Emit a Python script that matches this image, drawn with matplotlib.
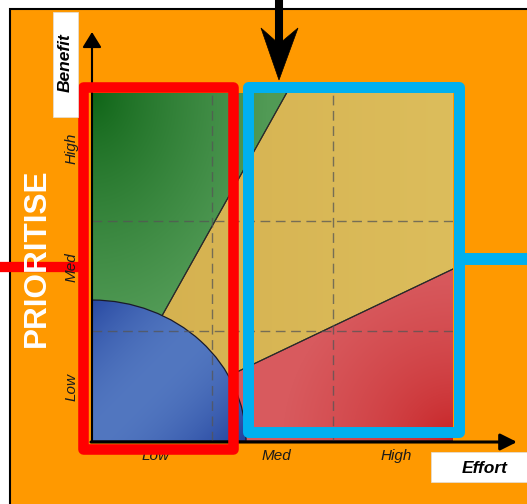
import numpy as np
import matplotlib
matplotlib.use('Agg')
import matplotlib.pyplot as plt
from matplotlib.patches import Rectangle, Wedge, Polygon, FancyArrowPatch

plt.rcParams['font.family'] = ['Liberation Sans', 'DejaVu Sans']

# chart content
x_labels = ['Low', 'Med', 'High']
y_labels = ['Low', 'Med', 'High']
x_max, y_max = 3.0, 3.16
# sector boundaries (degrees, measured from the origin) and the quarter disc radius
sector_names = ['red', 'yellow', 'green']
sector_edges = [0.0, 27.5, 62.9, 90.0]
blue_radius = 1.28
side_label = 'PRIORITISE'
x_title, y_title = 'Effort', 'Benefit'

orange = '#ff9900'
red_box = '#ff0000'
blue_box = '#00b0f0'

fig = plt.figure(figsize=(5.27, 5.04), dpi=100, facecolor='white')
W, H = 527, 504

# background layer (pixel coords)
bg = fig.add_axes([0, 0, 1, 1])
bg.set_xlim(0, W)
bg.set_ylim(H, 0)
bg.axis('off')
bg.set_zorder(0)
bg.add_patch(Rectangle((10, 9), 700, 700, fc=orange, ec='black', lw=1.5))
bg.text(36.5, 257.5, side_label, rotation=90, ha='center', va='center',
        fontsize=22.7, fontweight='bold', color='white')
bg.plot([0, 83], [266.5, 266.5], color=red_box, lw=7.4, solid_capstyle='butt')

# chart layer
ax = fig.add_axes([92 / W, (H - 441) / H, 361 / W, 348 / H])
ax.set_zorder(1)
ax.set_xlim(0, x_max)
ax.set_ylim(0, y_max)
for s in ax.spines.values():
    s.set_visible(False)

xs = np.linspace(0, x_max, 361)
ys = np.linspace(0, y_max, 348)
X, Y = np.meshgrid(xs, ys)
PX, PY = X * 120.3, Y * 110.0


def shade(dark, light, t):
    d = np.array(matplotlib.colors.to_rgb(dark))
    l = np.array(matplotlib.colors.to_rgb(light))
    t = np.clip(t, 0, 1)[..., None]
    return d * (1 - t) + l * t


grads = {
    'green': shade('#0d6315', '#519a55',
                   (np.hypot(PX * 1.2, (y_max * 110 - PY) * 0.9) / 210) ** 0.8),
    'yellow': shade('#d4af4d', '#dcbd5c', PX / 360),
    'red': shade('#c41a1c', '#d85a5e',
                 (np.hypot(361 - PX, PY) / 170) ** 0.55),
}

for name, t1, t2 in zip(sector_names, sector_edges[:-1], sector_edges[1:]):
    w = Wedge((0, 0), 6, t1, t2, fc='none', ec='#2a2a2a', lw=0.8, zorder=3)
    ax.add_patch(w)
    im = ax.imshow(grads[name], extent=[0, x_max, 0, y_max], origin='lower',
                   aspect='auto', interpolation='bilinear', zorder=2)
    im.set_clip_path(w)

tb = np.abs(PX - PY) / 165
blue_img = shade('#5277c0', '#1b3a98', tb ** 1.8)
bw = Wedge((0, 0), blue_radius, 0, 90, fc='none', ec='#1a1a2a', lw=0.9, zorder=5)
ax.add_patch(bw)
im = ax.imshow(blue_img, extent=[0, x_max, 0, y_max], origin='lower',
               aspect='auto', interpolation='bilinear', zorder=4)
im.set_clip_path(bw)

for v in [1, 2]:
    ax.axvline(v, color='#555555', lw=1.0, dashes=(7, 4), alpha=0.75, zorder=6)
    ax.axhline(v, color='#555555', lw=1.0, dashes=(7, 4), alpha=0.75, zorder=6)

ax.set_xticks(np.arange(3) + 0.53, x_labels)
ax.set_yticks(np.arange(3) * 1.085 + 0.49, y_labels, rotation=90, va='center')
ax.tick_params(length=0, labelsize=11, labelcolor='#1a1a1a')
ax.tick_params(axis='x', pad=6)
ax.tick_params(axis='y', pad=9.5)
for lab in ax.get_xticklabels() + ax.get_yticklabels():
    lab.set_fontstyle('italic')

# overlay layer (pixel coords)
ov = fig.add_axes([0, 0, 1, 1])
ov.set_xlim(0, W)
ov.set_ylim(H, 0)
ov.axis('off')
ov.patch.set_alpha(0)
ov.set_zorder(2)

# axis arrows
ov.add_patch(FancyArrowPatch((92, 442), (92, 32), arrowstyle='-|>,head_length=9.4,head_width=5.8',
                             mutation_scale=1, lw=1.5, color='black', shrinkA=0, shrinkB=0))
ov.add_patch(FancyArrowPatch((91, 442), (517, 442), arrowstyle='-|>,head_length=10,head_width=5',
                             mutation_scale=1, lw=2.2, color='black', shrinkA=0, shrinkB=0))

# highlight boxes
ov.add_patch(Rectangle((82.5, 87), 150.5, 361.5, fill=False, ec=red_box, lw=7.6, joinstyle='round'))
ov.add_patch(Rectangle((247.5, 87), 211.5, 345, fill=False, ec=blue_box, lw=7.9, joinstyle='round'))
ov.plot([459, 530], [259, 259], color=blue_box, lw=8.6, solid_capstyle='butt')

# top arrow
ov.plot([279, 279], [0, 46], color='black', lw=5.8, solid_capstyle='butt')
ov.add_patch(Polygon([(279, 80), (298, 28), (279, 44), (261, 28)], closed=True,
                     fc='black', ec='black', lw=0.5))

# axis titles
ov.add_patch(Rectangle((53, 12), 25, 105, fc='white', ec='#e0e0e0', lw=0.5))
ov.text(65.5, 63, y_title, rotation=90, ha='center', va='center',
        fontsize=12.5, fontweight='bold', fontstyle='italic', color='black')
ov.add_patch(Rectangle((431, 452), 110, 30, fc='white', ec='#e0e0e0', lw=0.5))
ov.text(485, 468.5, x_title, ha='center', va='center',
        fontsize=12.5, fontweight='bold', fontstyle='italic', color='black')

fig.savefig('out.png', dpi=100, facecolor='white')
